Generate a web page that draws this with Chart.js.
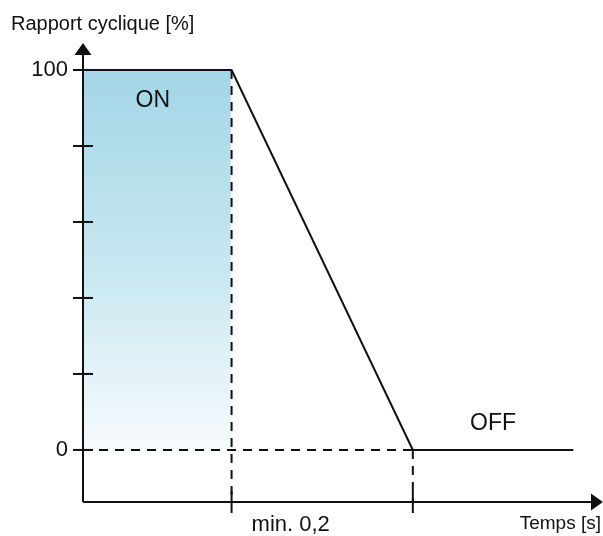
<!DOCTYPE html>
<html>
<head>
<meta charset="utf-8">
<script src="https://cdn.jsdelivr.net/npm/chart.js@4"></script>
<style>
  html, body { margin: 0; padding: 0; background: #fff; }
  #wrap { width: 603px; height: 536px; }
</style>
</head>
<body>
<div id="wrap"><canvas id="myChart"></canvas></div>
<script>
// data
const tempsOn = 1;        // end of ON phase (x units)
const tempsOff = 2.22;    // end of the ramp
const tempsFin = 3.3;     // end of the OFF line
const rampX = [0, tempsOn, tempsOff, tempsFin];
const rampY = [100, 100, 0, 0];
const yTicks = [0, 20, 40, 60, 80, 100];
const yLabels = { 0: '0', 100: '100' };
const xMarks = [tempsOn, tempsOff];

const FONT = '"Liberation Sans", Arial, sans-serif';
const DASH = [9, 7];

function pts(xs, ys) {
  return xs.map((x, i) => ({ x: x, y: ys[i] }));
}

// axes, arrows, ticks and the texts
const decor = {
  id: 'decor',
  afterDatasetsDraw(chart) {
    const c = chart.ctx;
    const a = chart.chartArea;
    const xs = chart.scales.x, ys = chart.scales.y;
    const x0 = xs.getPixelForValue(0);
    const yb = a.bottom;
    c.save();
    c.strokeStyle = '#111';
    c.fillStyle = '#111';
    c.lineWidth = 2;
    // y axis
    c.beginPath();
    c.moveTo(x0, yb);
    c.lineTo(x0, a.top + 8);
    c.stroke();
    c.beginPath();
    c.moveTo(x0, a.top);
    c.lineTo(x0 - 8.5, a.top + 12);
    c.lineTo(x0 + 8.5, a.top + 12);
    c.closePath();
    c.fill();
    // x axis
    c.beginPath();
    c.moveTo(x0, yb);
    c.lineTo(a.right - 8, yb);
    c.stroke();
    c.beginPath();
    c.moveTo(a.right, yb);
    c.lineTo(a.right - 12, yb - 8.5);
    c.lineTo(a.right - 12, yb + 8.5);
    c.closePath();
    c.fill();
    // y ticks crossing the axis
    yTicks.forEach(v => {
      const py = ys.getPixelForValue(v);
      c.beginPath();
      c.moveTo(x0 - 10, py);
      c.lineTo(x0 + 10, py);
      c.stroke();
    });
    // x ticks
    xMarks.forEach(v => {
      const px = xs.getPixelForValue(v);
      c.beginPath();
      c.moveTo(px, yb - 11);
      c.lineTo(px, yb + 11);
      c.stroke();
    });
    // texts
    c.textBaseline = 'middle';
    c.font = '20px ' + FONT;
    c.textAlign = 'left';
    c.fillText('Rapport cyclique [%]', 11, 24);
    c.font = '19px ' + FONT;
    c.textAlign = 'right';
    c.fillText('Temps [s]', 601, 524);
    c.font = '22px ' + FONT;
    c.textAlign = 'left';
    c.fillText('min. 0,2', xs.getPixelForValue(tempsOn) + 20, 525);
    c.font = '23px ' + FONT;
    c.textAlign = 'center';
    c.fillText('ON', xs.getPixelForValue(0.47), ys.getPixelForValue(92));
    c.fillText('OFF', xs.getPixelForValue(2.76), ys.getPixelForValue(7));
    c.restore();
  }
};

const ctx = document.getElementById('myChart');
const myChart = new Chart(ctx, {
  type: 'line',
  data: {
    datasets: [
      {
        data: pts(rampX, rampY),
        borderColor: '#111',
        borderWidth: 2,
        pointRadius: 0,
        fill: false,
        order: 1
      },
      {
        // horizontal dashed line at 0
        data: pts([0, tempsOff], [0, 0]),
        borderColor: '#111',
        borderWidth: 2,
        borderDash: DASH,
        pointRadius: 0,
        fill: false,
        order: 2
      },
      {
        data: pts([tempsOn, tempsOn], [100, -14]),
        borderColor: '#111',
        borderWidth: 2,
        borderDash: DASH,
        pointRadius: 0,
        fill: false,
        order: 2
      },
      {
        data: pts([tempsOff, tempsOff], [0, -14]),
        borderColor: '#111',
        borderWidth: 2,
        borderDash: DASH,
        pointRadius: 0,
        fill: false,
        order: 2
      },
      {
        // ON area
        data: pts([0, tempsOn - 0.005], [100, 100]),
        borderWidth: 0,
        borderColor: 'rgba(0,0,0,0)',
        pointRadius: 0,
        fill: { value: 0 },
        backgroundColor: function(context) {
          const chart = context.chart;
          if (!chart.chartArea) return '#a5d7e8';
          const ys = chart.scales.y;
          const g = chart.ctx.createLinearGradient(0, ys.getPixelForValue(100), 0, ys.getPixelForValue(0));
          g.addColorStop(0, '#a3d6e7');
          g.addColorStop(0.5, '#c6e6f0');
          g.addColorStop(1, '#f6fbfd');
          return g;
        },
        order: 10
      }
    ]
  },
  options: {
    responsive: true,
    maintainAspectRatio: false,
    animation: false,
    layout: { padding: { top: 43, right: 0, left: 0, bottom: 0 } },
    plugins: {
      legend: { display: false },
      tooltip: { enabled: false }
    },
    scales: {
      x: {
        type: 'linear',
        min: 0,
        max: 3.5,
        grid: { display: false },
        border: { display: false },
        ticks: { display: false },
        afterFit(scale) { scale.height = 34; }
      },
      y: {
        min: -13.7,
        max: 107.1,
        grid: { display: false, drawTicks: false },
        border: { display: false },
        afterBuildTicks(scale) {
          scale.ticks = yTicks.map(v => ({ value: v }));
        },
        ticks: {
          padding: 15,
          color: '#111',
          font: { size: 22, family: FONT },
          callback: v => yLabels[v] || ''
        },
        afterFit(scale) { scale.width = 83; }
      }
    }
  },
  plugins: [decor]
});
</script>
</body>
</html>
